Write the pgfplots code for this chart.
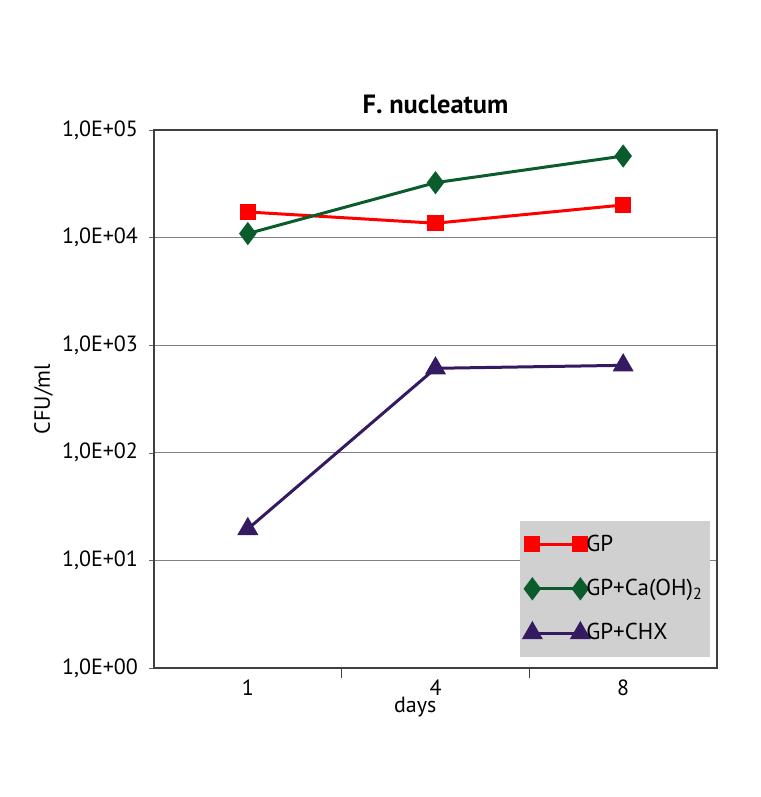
\documentclass[border=0pt]{standalone}
\usepackage{pgfplots}
\pgfplotsset{compat=1.18}
\usepackage{fontspec}
\setmainfont{PT Sans}
\definecolor{gpred}{RGB}{255,0,0}
\definecolor{gpgreen}{RGB}{10,92,45}
\definecolor{gppurple}{RGB}{52,26,96}
\definecolor{leggray}{RGB}{208,208,208}
\begin{document}
\begin{tikzpicture}[x=1pt,y=1pt]
\useasboundingbox (0,0) rectangle (380,398.5);
\begin{axis}[
  at={(77pt,64.5pt)}, anchor=south west,
  scale only axis, width=281.5pt, height=269pt,
  ymode=log, ymin=1, ymax=1e5,
  xmin=0.5, xmax=3.5,
  xtick={1,2,3}, xticklabels={1,4,8},
  xtick pos=bottom, ytick pos=left,
  major x tick style={draw=none},
  minor xtick={1.5,2.5},
  minor x tick style={draw=black!75},
  minor tick length=5pt,
  ytick={1,10,100,1000,10000,100000},
  yticklabels={{1,0E+00},{1,0E+01},{1,0E+02},{1,0E+03},{1,0E+04},{1,0E+05}},
  yminorticks=false,
  ymajorgrids, major grid style={black!50, line width=0.5pt},
  major tick length=2.5pt, tick align=outside,
  ytick style={black!60},
  axis line style={black!75, line width=0.6pt},
  tick label style={font=\fontsize{11}{13}\selectfont},
  yticklabel style={xshift=-2pt},
  title={\textbf{F. nucleatum}},
  title style={at={(axis description cs:0.5,1.026)}, anchor=center, font=\fontsize{13.2}{15}\selectfont},
  xlabel={days},
  xlabel style={at={(axis description cs:0.464,-0.072)}, anchor=center, font=\fontsize{11}{13}\selectfont},
  ylabel={CFU/ml},
  ylabel style={at={(axis description cs:-0.196,0.5)}, anchor=center, font=\fontsize{11}{13}\selectfont},
  legend style={at={(axis description cs:0.988,0.02)}, anchor=south east,
    fill=leggray, draw=none, font=\fontsize{11.5}{13}\selectfont,
    inner xsep=1.5pt, inner ysep=5pt, row sep=8.5pt,
    /tikz/every odd column/.append style={column sep=-3pt}},
  legend cell align=left,
  legend image code/.code={\path (-4pt,0pt); \draw[mark repeat=2,mark phase=1] plot coordinates {(0pt,0pt)(12pt,0pt)(24pt,0pt)};},
]
\addplot[gpred, line width=1.5pt, mark=square*, mark size=3.3pt, mark options={solid}]
  coordinates {(1,17300) (2,13600) (3,20100)};
\addlegendentry{GP}
\addplot[gpgreen, line width=1.5pt, mark=diamond*, mark size=4.6pt, mark options={solid}]
  coordinates {(1,10900) (2,32400) (3,57300)};
\addlegendentry{GP+Ca(OH)\textsubscript{2}}
\addplot[gppurple, line width=1.5pt, mark=triangle*, mark size=4.6pt, mark options={solid}]
  coordinates {(1,19.6) (2,610) (3,650)};
\addlegendentry{GP+CHX}
\end{axis}
\end{tikzpicture}
\end{document}
